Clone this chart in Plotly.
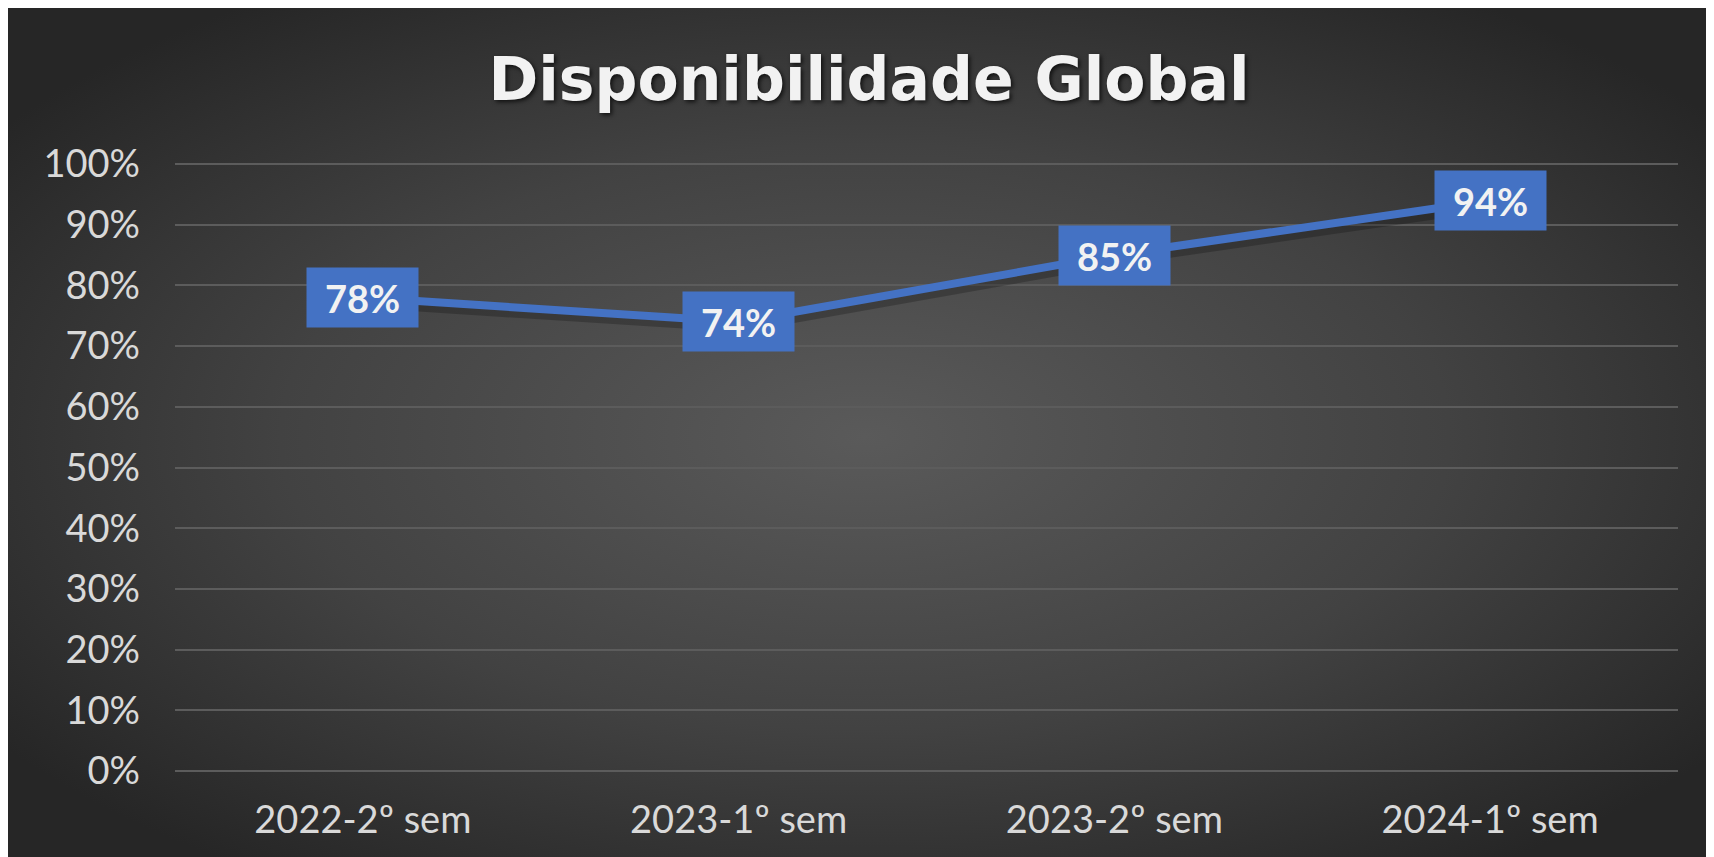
import base64
import plotly.graph_objects as go

# ---- data ----
categories = ["2022-2º sem", "2023-1º sem", "2023-2º sem", "2024-1º sem"]
availability = [0.78, 0.74, 0.85, 0.94]
title_text = "Disponibilidade Global"

W, H = 1714, 857
Y_LO, Y_HI = -0.005, 1.005
PX_PER_UNIT = 607.0
zero_px = 763.0
L, R = 167, 44
T = int(round(zero_px - PX_PER_UNIT * Y_HI))
B = int(round(H - (zero_px - PX_PER_UNIT * Y_LO)))
plot_w = W - L - R
plot_h = H - T - B

# radial gradient background as SVG data URI
svg = (
    "<svg xmlns='http://www.w3.org/2000/svg' width='1714' height='857' "
    "viewBox='0 0 1714 857' preserveAspectRatio='none'>"
    "<defs><radialGradient id='g' cx='0.5' cy='0.5' r='0.62'>"
    "<stop offset='0' stop-color='#5a5a5a'/>"
    "<stop offset='0.55' stop-color='#424242'/>"
    "<stop offset='1' stop-color='#262626'/>"
    "</radialGradient></defs>"
    "<rect width='1714' height='857' fill='url(#g)'/></svg>"
)
bg_uri = "data:image/svg+xml;base64," + base64.b64encode(svg.encode()).decode()

# shadow offset (pixels) expressed as shifted overlay axes
sdx, sdy = 2, 5
cat_px = plot_w / 4.0

fig = go.Figure()
fig.add_trace(go.Scatter(
    x=categories, y=availability, mode="lines",
    line=dict(color="rgba(0,0,0,0.22)", width=11),
    xaxis="x2", yaxis="y2", hoverinfo="skip", showlegend=False,
))
fig.add_trace(go.Scatter(
    x=categories, y=availability, mode="lines",
    line=dict(color="#4472C4", width=8),
    xaxis="x3", yaxis="y3", hoverinfo="skip", showlegend=False,
))

annotations = []
for c, v in zip(categories, availability):
    annotations.append(dict(
        x=c, y=v, xref="x", yref="y", text=f"{round(v*100)}%",
        showarrow=False, bgcolor="#4472C4", borderpad=0,
        width=111, height=59, align="center", valign="middle",
        font=dict(family="Lato", size=38, color="#f2f2f2", weight="bold"),
    ))

fig.update_layout(
    width=W, height=H,
    margin=dict(l=L, r=R, t=T, b=B, pad=0),
    paper_bgcolor="#2a2a2a",
    plot_bgcolor="rgba(0,0,0,0)",
    title=dict(
        text=title_text, x=(869 - 8) / W, xanchor="center", y=1 - 71 / H, yanchor="middle",
        font=dict(family="DejaVu Sans", size=60, color="#f2f2f2", weight="bold",
                  shadow="2px 2px 4px rgba(0,0,0,0.7)"),
    ),
    annotations=annotations,
    images=[dict(
        source=bg_uri, xref="paper", yref="paper",
        x=-L / plot_w, y=1 + T / plot_h,
        sizex=W / plot_w, sizey=H / plot_h,
        xanchor="left", yanchor="top", sizing="stretch", layer="below",
    )],
    xaxis=dict(
        type="category", categoryarray=categories, categoryorder="array",
        range=[-0.5, 3.5], showgrid=False, zeroline=False,
        showline=False, ticks="", ticklabelstandoff=20,
        tickfont=dict(family="Lato", size=38, color="#d9d9d9"),
        fixedrange=True,
    ),
    xaxis2=dict(
        type="category", overlaying="x", range=[-0.5 - sdx / cat_px, 3.5 - sdx / cat_px],
        visible=False, fixedrange=True,
    ),
    xaxis3=dict(
        type="category", overlaying="x", range=[-0.5, 3.5],
        visible=False, fixedrange=True,
    ),
    yaxis=dict(
        range=[Y_LO, Y_HI], tickvals=[i / 10 for i in range(11)], tickformat=".0%",
        showgrid=True, gridcolor="#5c5c5c", gridwidth=2,
        zeroline=True, zerolinecolor="#5c5c5c", zerolinewidth=2,
        showline=False, ticks="", ticklabelstandoff=34,
        tickfont=dict(family="Lato", size=38, color="#d9d9d9"),
        fixedrange=True,
    ),
    yaxis2=dict(
        overlaying="y", range=[Y_LO + sdy / PX_PER_UNIT, Y_HI + sdy / PX_PER_UNIT],
        visible=False, fixedrange=True,
    ),
    yaxis3=dict(
        overlaying="y", range=[Y_LO, Y_HI],
        visible=False, fixedrange=True,
    ),
    showlegend=False,
)

fig.write_html("out.html")
